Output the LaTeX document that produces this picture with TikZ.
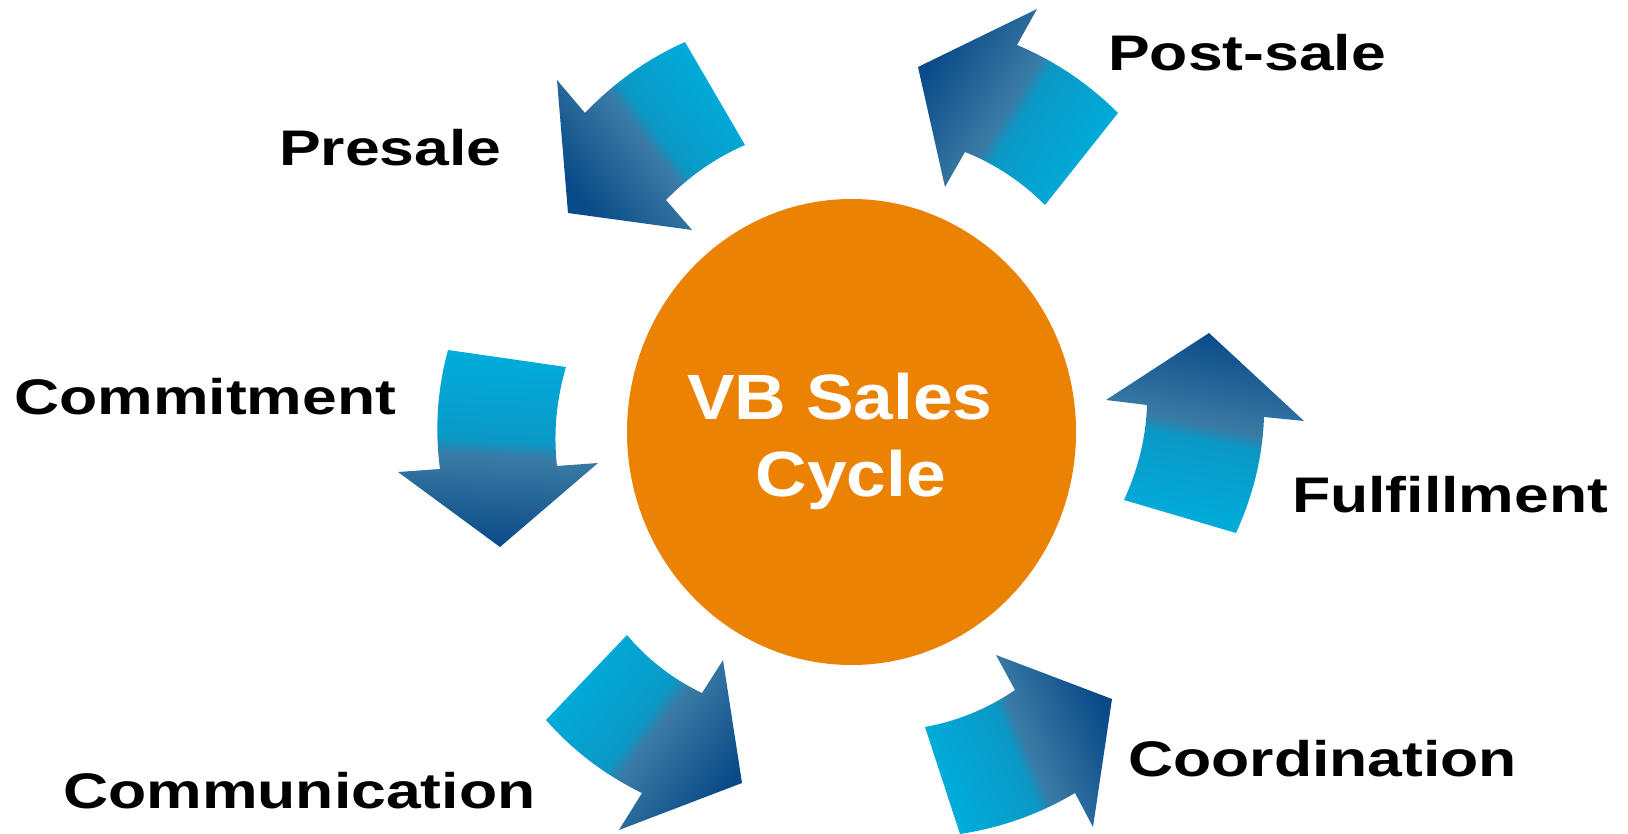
\documentclass[tikz,border=0pt]{standalone}
\usepackage{fontspec}
\usetikzlibrary{shapes.geometric}
\newfontfamily\lblfont{Liberation Sans}[FakeStretch=1.25]
\newfontfamily\hubfont{Liberation Sans}[FakeStretch=1.115]
\definecolor{arrdark}{HTML}{0A4A88}
\definecolor{arrmidA}{HTML}{3A7BA5}
\definecolor{arrmidB}{HTML}{0A98C6}
\definecolor{arrlight}{HTML}{00AEDC}
\definecolor{huborange}{HTML}{EC8204}
\pgfdeclarehorizontalshading{vbarrow}{100bp}{color(0bp)=(arrdark); color(25bp)=(arrdark); color(48bp)=(arrmidA); color(52bp)=(arrmidB); color(75bp)=(arrlight); color(100bp)=(arrlight)}
\tikzset{
  arrowshape/.style={shading=vbarrow, draw=none},
  label text/.style={font=\lblfont\bfseries\fontsize{50}{60}\selectfont, text=black, inner sep=0pt, anchor=base west},
  hub text/.style={font=\hubfont\bfseries\fontsize{64}{76}\selectfont, text=white, inner sep=0pt, anchor=base}
}
\begin{document}
\begin{tikzpicture}[x=1pt,y=-1pt]
\useasboundingbox[fill=white] (0,0) rectangle (1628,834);
% hub
\node[ellipse, fill=huborange, minimum width=449pt, minimum height=466pt, inner sep=0pt] (hub) at (851.5,432) {};
\node[hub text] (t1) at (840,419) {VB Sales};
\node[hub text] (t2) at (851,496) {Cycle};
% Presale arrow
\path[arrowshape, shading angle=37] (557,80) -- (585,113)
  .. controls (614.3,82.3) and (647.7,58.7) .. (685,42) -- (745,145)
  .. controls (715.7,157.7) and (689.3,176) .. (666,200) -- (692,230) -- (568,213) -- cycle;
% Post-sale arrow
\path[arrowshape, shading angle=-32] (918,67) -- (1037,9) -- (1017,45)
  .. controls (1055,61) and (1088.7,83.7) .. (1118,113) -- (1045,205)
  .. controls (1021.7,181.7) and (995,164) .. (965,152) -- (945,187) -- cycle;
% Commitment arrow
\path[arrowshape, shading angle=87] (448,350) -- (566,367)
  .. controls (556.3,399.7) and (553.3,432.7) .. (557,466) -- (598,463) -- (500,547) -- (398,472) -- (440,469)
  .. controls (434.7,429) and (437.3,389.3) .. cycle;
% Fulfillment arrow
\path[arrowshape, shading angle=-101] (1209,333) -- (1304,421) -- (1264,417)
  .. controls (1262.7,456.3) and (1253.3,495) .. (1236,533) -- (1124,500)
  .. controls (1138.3,468.7) and (1146,437) .. (1147,405) -- (1106,400) -- cycle;
% Communication arrow
\path[arrowshape, shading angle=143] (627,635)
  .. controls (647.7,659.7) and (672.7,679) .. (702,693) -- (723,660) -- (742,783) -- (619,830) -- (642,793)
  .. controls (605,775) and (573,750.7) .. (546,720) -- cycle;
% Coordination arrow
\path[arrowshape, shading angle=-157] (1112,699) -- (996,655) -- (1015,690)
  .. controls (987.7,708.7) and (957.7,721) .. (925,727) -- (960,834)
  .. controls (1001.3,827.7) and (1039.7,814) .. (1075,793) -- (1093,827) -- cycle;
% labels
\node[label text] (presale) at (279,166) {Presale};
\node[label text] (commit) at (14,414) {Commitment};
\node[label text] (comm) at (63,808) {Communication};
\node[label text] (post) at (1108,71) {Post-sale};
\node[label text] (fulfil) at (1292,512) {Fulfillment};
\node[label text] (coord) at (1128,776) {Coordination};
\end{tikzpicture}
\end{document}
